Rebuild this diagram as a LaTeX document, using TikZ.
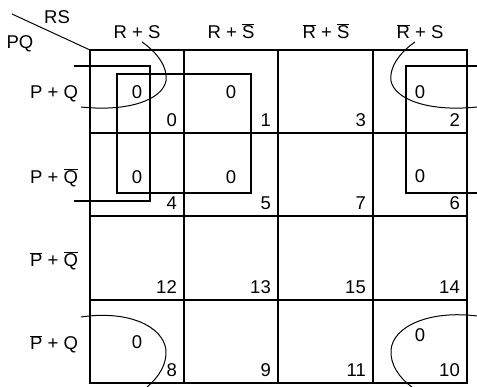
\documentclass[tikz,border=0pt]{standalone}
\usepackage{fontspec}
\setmainfont{Liberation Sans}
\newcommand{\ob}[1]{$\overline{\mbox{#1}}$}
\begin{document}
\begin{tikzpicture}[x=1pt,y=-1pt,
  gridline/.style={line width=1.3pt},
  grp/.style={line width=1.1pt},
  loopc/.style={line width=1pt},
  lbl/.style={font=\fontsize{18.5}{18.5}\selectfont, inner sep=0pt, anchor=base},
  idx/.style={font=\fontsize{18.5}{18.5}\selectfont, inner sep=0pt, anchor=base east}]
\useasboundingbox (0,0) rectangle (477,387);
% grid
\coordinate (c0) at (90,50);
\draw[gridline] (90,50) rectangle (467,383);
\foreach \x in {184,278,373} \draw[gridline] (\x,50) -- (\x,383);
\foreach \y in {133,216,300} \draw[gridline] (90,\y) -- (467,\y);
% corner
\coordinate (d0) at (12,14);
\draw[line width=1pt] (d0) -- (c0);
\node[lbl] (rs) at (57,24) {RS};
\node[lbl] (pq) at (20,48.5) {PQ};
% column headers
\node[lbl] (h1) at (137,39) {R + S};
\node[lbl] (h2) at (231,39) {R + \ob{S}};
\node[lbl] (h3) at (326,39) {\ob{R} + \ob{S}};
\node[lbl] (h4) at (420,39) {\ob{R} + S};
% row headers
\node[lbl] (r1) at (54,99) {P + Q};
\node[lbl] (r2) at (54,184) {P + \ob{Q}};
\node[lbl] (r3) at (54,267) {\ob{P} + \ob{Q}};
\node[lbl] (r4) at (54,350) {\ob{P} + Q};
% cell indices
\node[idx] (i0) at (177,127) {0};
\node[idx] (i1) at (271,127) {1};
\node[idx] (i3) at (366,127) {3};
\node[idx] (i2) at (460,127) {2};
\node[idx] (i4) at (177,210) {4};
\node[idx] (i5) at (271,210) {5};
\node[idx] (i7) at (366,210) {7};
\node[idx] (i6) at (460,210) {6};
\node[idx] (i12) at (177,294) {12};
\node[idx] (i13) at (271,294) {13};
\node[idx] (i15) at (366,294) {15};
\node[idx] (i14) at (460,294) {14};
\node[idx] (i8) at (177,377) {8};
\node[idx] (i9) at (271,377) {9};
\node[idx] (i11) at (366,377) {11};
\node[idx] (i10) at (460,377) {10};
% zeros
\node[lbl] (z0) at (137,99) {0};
\node[lbl] (z1) at (231,99) {0};
\node[lbl] (z2) at (420,99) {0};
\node[lbl] (z4) at (137,183.5) {0};
\node[lbl] (z5) at (231,183.5) {0};
\node[lbl] (z6) at (420,183) {0};
\node[lbl] (z8) at (137,349) {0};
\node[lbl] (z10) at (420,341.5) {0};
% groups
\draw[grp] (74,66) -- (150,66) -- (150,201) -- (74,201);
\draw[grp] (117,74) rectangle (251,193);
\draw[grp] (477,66) -- (406,66) -- (406,193) -- (477,193);
% loops
\draw[loopc] (142,42) .. controls (158,53) and (168,68) .. (166,81)
  .. controls (162,100) and (128,112) .. (81,107);
\draw[loopc] (415,42) .. controls (399,53) and (389,68) .. (391,81)
  .. controls (395,100) and (430,112) .. (477,107);
\draw[loopc] (81,317) .. controls (128,310) and (163,326) .. (166,350)
  .. controls (167,364) and (159,377) .. (147,387);
\draw[loopc] (477,316) .. controls (430,310) and (393,326) .. (391,350)
  .. controls (390,364) and (399,378) .. (412,387);
\end{tikzpicture}
\end{document}
